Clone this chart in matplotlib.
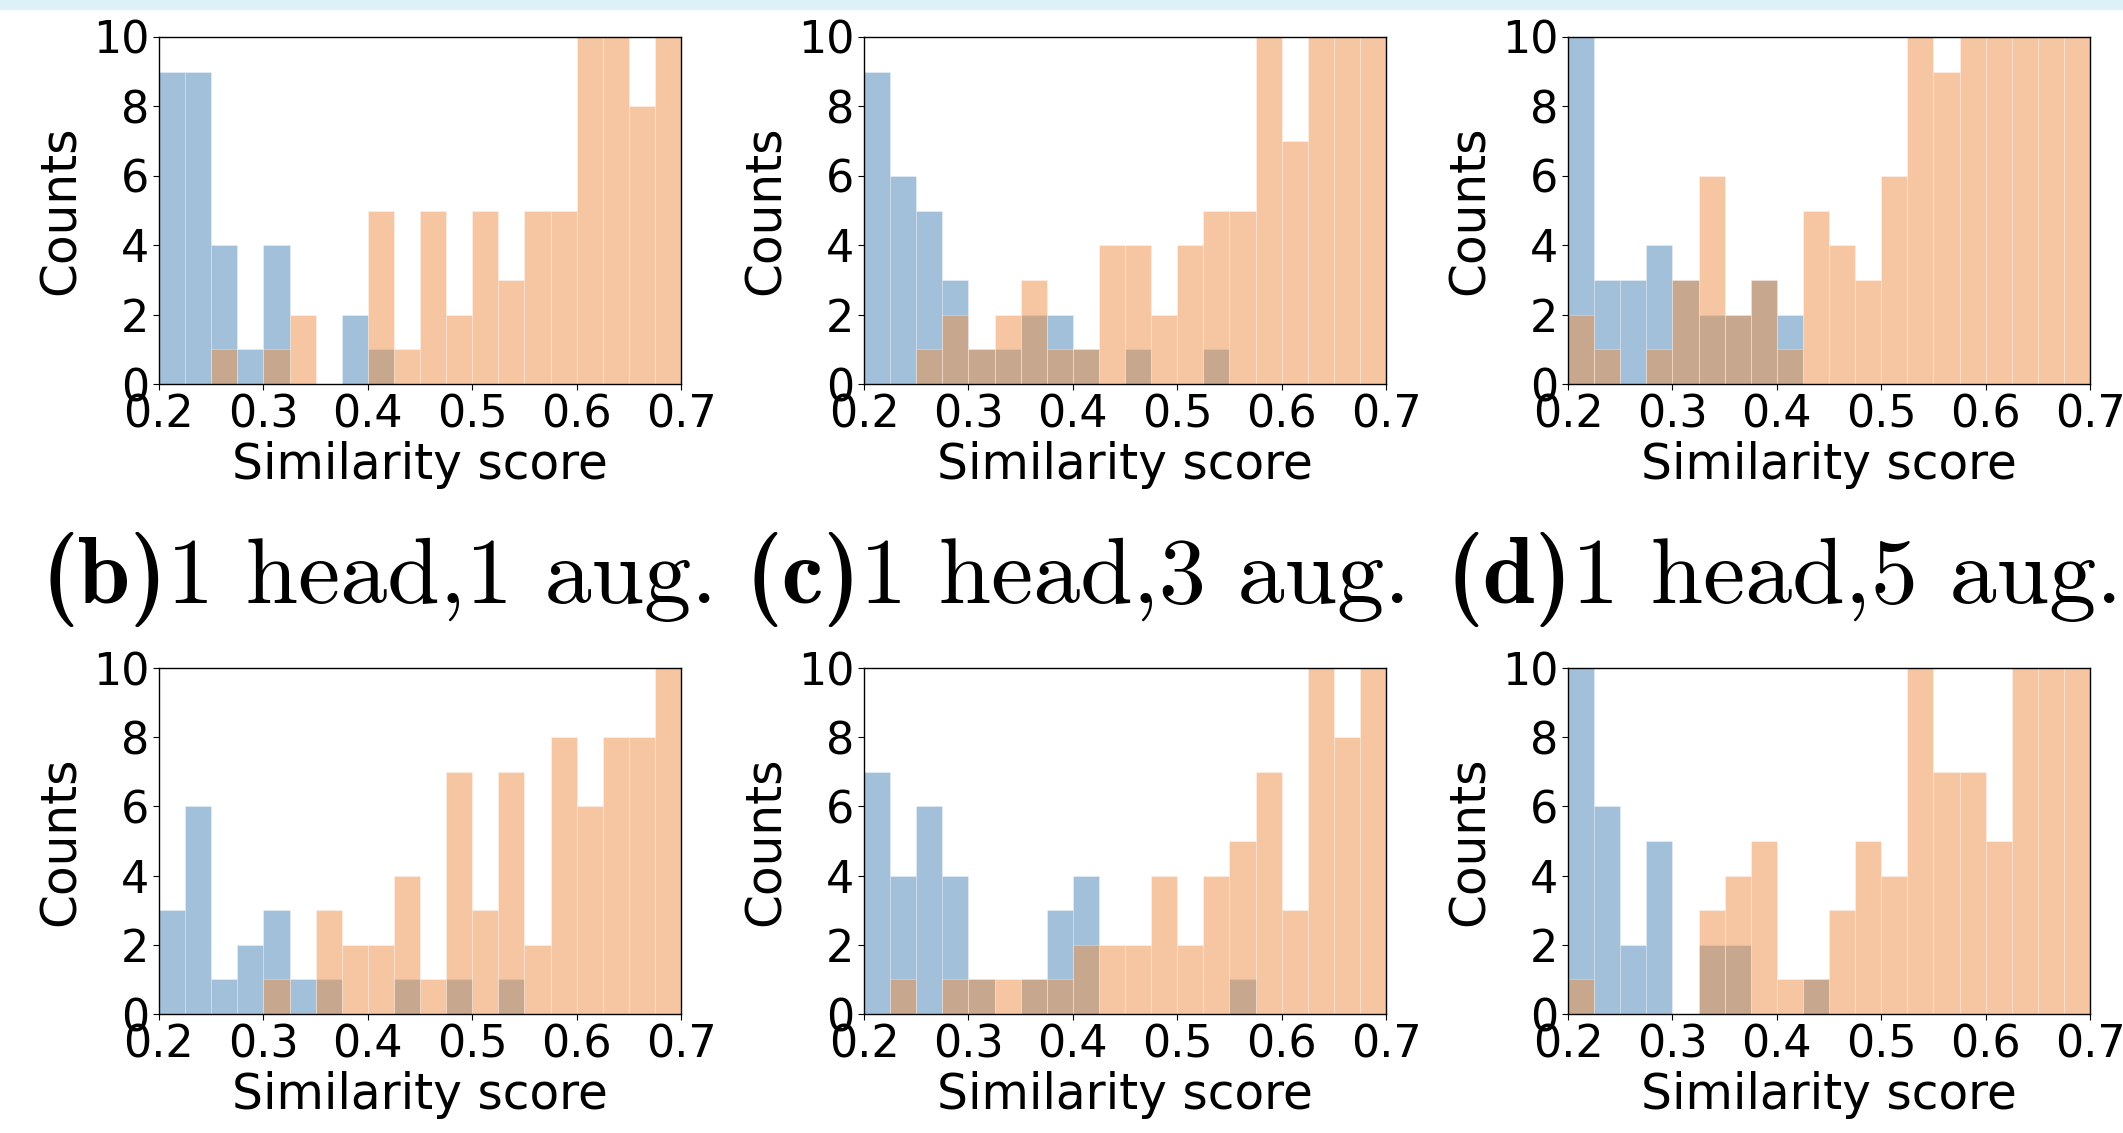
import numpy as np
import matplotlib
matplotlib.use("Agg")
import matplotlib.pyplot as plt
from matplotlib.patches import Rectangle

# ---- data: counts per bin (20 bins from 0.2 to 0.7); values >10 are clipped in the view
bin_lo, bin_hi, n_bins = 0.2, 0.7, 20

blue_a = [9, 9, 4, 1, 4, 0, 0, 2, 1, 0, 0, 0, 0, 0, 0, 0, 0, 0, 0, 0]
orange_a = [0, 0, 1, 0, 1, 2, 0, 0, 5, 1, 5, 2, 5, 3, 5, 5, 12, 13, 8, 12]

blue_b = [9, 6, 5, 3, 1, 1, 2, 2, 1, 0, 1, 0, 0, 1, 0, 0, 0, 0, 0, 0]
orange_b = [0, 0, 1, 2, 1, 2, 3, 1, 1, 4, 4, 2, 4, 5, 5, 12, 7, 13, 14, 12]

blue_c = [11, 3, 3, 4, 3, 2, 2, 3, 2, 0, 0, 0, 0, 0, 0, 0, 0, 0, 0, 0]
orange_c = [2, 1, 0, 1, 3, 6, 2, 3, 1, 5, 4, 3, 6, 11, 9, 12, 14, 16, 18, 20]

blue_d = [3, 6, 1, 2, 3, 1, 1, 0, 0, 1, 0, 1, 0, 1, 0, 0, 0, 0, 0, 0]
orange_d = [0, 0, 0, 0, 1, 0, 3, 2, 2, 4, 1, 7, 3, 7, 2, 8, 6, 8, 8, 11]

blue_e = [7, 4, 6, 4, 1, 0, 1, 3, 4, 0, 0, 0, 0, 0, 1, 0, 0, 0, 0, 0]
orange_e = [0, 1, 0, 1, 1, 1, 1, 1, 2, 2, 2, 4, 2, 4, 5, 7, 3, 12, 8, 11]

blue_f = [11, 6, 2, 5, 0, 2, 2, 0, 0, 1, 0, 0, 0, 0, 0, 0, 0, 0, 0, 0]
orange_f = [1, 0, 0, 0, 0, 3, 4, 5, 1, 1, 3, 5, 4, 12, 7, 7, 5, 13, 15, 17]

blues = [blue_a, blue_b, blue_c, blue_d, blue_e, blue_f]
oranges = [orange_a, orange_b, orange_c, orange_d, orange_e, orange_f]

x_ticks = [0.2, 0.3, 0.4, 0.5, 0.6, 0.7]
y_ticks = [0, 2, 4, 6, 8, 10]
x_label = "Similarity score"
y_label = "Counts"
caption_tags = ["(b)", "(c)", "(d)"]
caption_texts = ["1 head,1 aug.", "1 head,3 aug.", "1 head,5 aug."]

# ---- style
plt.rcParams["font.family"] = ["DejaVu Sans"]

W, H = 2123, 1133
fig = plt.figure(figsize=(W / 100, H / 100), dpi=100)

blue_col = "#4682b4"
orange_col = "#ef8f47"

edges = np.linspace(bin_lo, bin_hi, n_bins + 1)
centers = (edges[:-1] + edges[1:]) / 2

lefts_px = [159, 864, 1568]
width_px = 522
rows_px = [(37, 384), (668, 1014)]

for i in range(6):
    r, c = divmod(i, 3)
    top, bot = rows_px[r]
    ax = fig.add_axes([lefts_px[c] / W, 1 - bot / H, width_px / W, (bot - top) / H])
    ax.hist(centers, bins=edges, weights=blues[i], color=blue_col, alpha=0.5,
            edgecolor="white", linewidth=0.4)
    ax.hist(centers, bins=edges, weights=oranges[i], color=orange_col, alpha=0.5,
            edgecolor="white", linewidth=0.4)
    ax.set_xlim(bin_lo, bin_hi)
    ax.set_ylim(0, 10)
    ax.set_xticks(x_ticks)
    ax.set_xticklabels([f"{t:.1f}" for t in x_ticks])
    ax.set_yticks(y_ticks)
    ax.tick_params(labelsize=32, length=4, pad=3)
    ax.set_xlabel(x_label, fontsize=35, labelpad=3)
    ax.set_ylabel(y_label, fontsize=35, labelpad=6)
    for s in ax.spines.values():
        s.set_linewidth(1.0)

# captions between the rows: bold tag + roman text, Computer Modern
renderer = fig.canvas.get_renderer()
cap_x = [379, 1078, 1784]
cap_base = 1 - 603 / H
cap_size = 68
for cx, tag, txt in zip(cap_x, caption_tags, caption_texts):
    t1 = fig.text(0, cap_base, tag, fontsize=cap_size, family="cmb10",
                  ha="left", va="baseline")
    t2 = fig.text(0, cap_base, txt, fontsize=cap_size, family="cmr10",
                  ha="left", va="baseline")
    w1 = t1.get_window_extent(renderer).width
    w2 = t2.get_window_extent(renderer).width
    x0 = cx - (w1 + w2) / 2
    t1.set_x(x0 / W)
    t2.set_x((x0 + w1) / W)

# light strip at the top edge
fig.patches.append(Rectangle((0, 1 - 10 / H), 1, 10 / H, transform=fig.transFigure,
                             facecolor="#dff1f8", edgecolor="none", zorder=-1))

fig.savefig("out.png", dpi=100)
